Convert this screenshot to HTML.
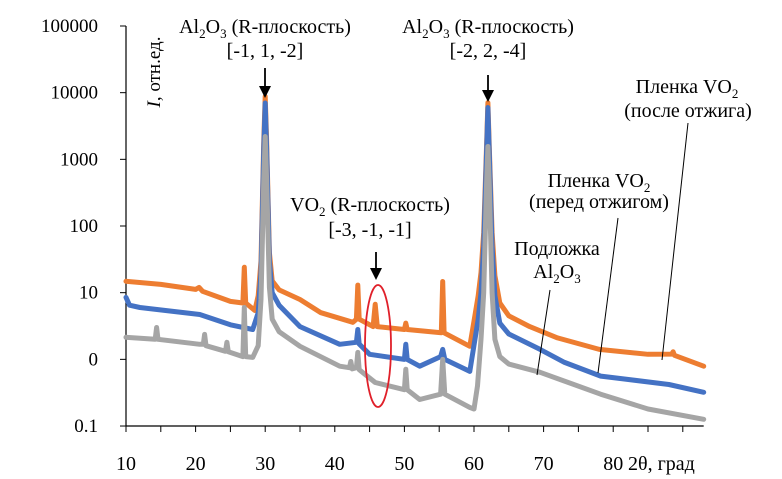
<!DOCTYPE html>
<html><head><meta charset="utf-8"><style>
body{margin:0;background:#fff}
svg{display:block}
svg text{font-family:"Liberation Serif","Times New Roman",serif;fill:#000}
</style></head><body>
<svg id="chart" width="782" height="479" viewBox="0 0 782 479" xmlns="http://www.w3.org/2000/svg" font-family="Liberation Serif, serif">
<g id="axes" font-family="Liberation Serif, serif"></g>
<g id="series"></g>
<g id="annot" font-family="Liberation Serif, serif">
  <text x="265" y="33" font-size="20" text-anchor="middle">Al<tspan font-size="13" dy="5">2</tspan><tspan dy="-5">O</tspan><tspan font-size="13" dy="5">3</tspan><tspan dy="-5"> (R-плоскость)</tspan></text>
  <text x="265" y="57" font-size="20" text-anchor="middle">[-1, 1, -2]</text>
  <text x="488" y="33" font-size="20" text-anchor="middle">Al<tspan font-size="13" dy="5">2</tspan><tspan dy="-5">O</tspan><tspan font-size="13" dy="5">3</tspan><tspan dy="-5"> (R-плоскость)</tspan></text>
  <text x="488" y="57" font-size="20" text-anchor="middle">[-2, 2, -4]</text>
  <text x="370" y="211" font-size="20" text-anchor="middle">VO<tspan font-size="13" dy="5">2</tspan><tspan dy="-5"> (R-плоскость)</tspan></text>
  <text x="370" y="236" font-size="20" text-anchor="middle">[-3, -1, -1]</text>
  <g stroke="#000" stroke-width="1.8">
    <line x1="265" y1="68" x2="265" y2="88"/><line x1="488" y1="75" x2="488" y2="92"/><line x1="376" y1="252" x2="376" y2="270"/>
  </g>
  <g fill="#000">
    <polygon points="259,86 271,86 265,98"/>
    <polygon points="482,90 494,90 488,102"/>
    <polygon points="370,268 382,268 376,280"/>
  </g>
  <ellipse cx="378" cy="346" rx="13" ry="61" fill="none" stroke="#e0202a" stroke-width="1.8"/>
  <text transform="translate(160,72) rotate(-90)" font-size="19" text-anchor="middle"><tspan font-style="italic">I</tspan>, отн.ед.</text>
  <text x="628" y="470" font-size="20">2θ, град</text>
  <text x="687" y="93" font-size="20" text-anchor="middle">Пленка VO<tspan font-size="13" dy="5">2</tspan></text>
  <text x="688" y="117" font-size="20" text-anchor="middle">(после отжига)</text>
  <text x="599" y="187" font-size="20" text-anchor="middle">Пленка VO<tspan font-size="13" dy="5">2</tspan></text>
  <text x="599" y="208" font-size="20" text-anchor="middle">(перед отжигом)</text>
  <text x="557" y="255" font-size="20" text-anchor="middle">Подложка</text>
  <text x="557" y="278" font-size="20" text-anchor="middle">Al<tspan font-size="13" dy="5">2</tspan><tspan dy="-5">O</tspan><tspan font-size="13" dy="5">3</tspan></text>
  <g stroke="#000" stroke-width="1">
    <line x1="688" y1="123" x2="662" y2="360"/>
    <line x1="618" y1="218" x2="598" y2="373"/>
    <line x1="550" y1="290" x2="537" y2="375"/>
  </g>
</g>
</svg>
<script>
const xTicks = [10,20,30,40,50,60,70,80];
const yTicks = [100000,10000,1000,100,10,1,0.1];
const yTickLabels = ["100000","10000","1000","100","10","0","0.1"];
const orangeX = [10,15,20,20.5,21,25,26.8,27,27.2,28.5,29.0,29.4,29.8,30,30.2,30.6,31,32,35,38,42.6,43.1,43.3,43.5,45.5,45.8,46.1,50,50.2,50.4,55.3,55.5,55.7,59.4,60.2,60.6,61,61.4,61.8,62,62.2,62.6,63,63.7,65,68,72,78,85,88.4,88.6,88.8,93];
const orangeY = [14.8,13.3,11.2,12,10.5,7.4,7,24,7,5.4,9,30,2000,8800,2000,40,15,11,7.9,5,3.6,4,13,4,3.1,6.7,3.1,2.8,3.5,2.8,2.5,14.7,2.5,1.57,5,9,20,80,1500,7100,1500,80,18,7,4.5,3.1,2.1,1.41,1.19,1.2,1.3,1.15,0.79];
const blueX = [10,10.5,12,20.6,25,28.2,29.0,29.4,29.8,30,30.2,30.6,31,32,35,40.7,43.1,43.3,43.5,45,50,50.2,50.4,52.2,55.2,55.5,55.8,59.4,60.2,60.6,61,61.4,61.8,62,62.2,62.6,63,63.7,65,69.5,73,78.2,88,93];
const blueY = [8.5,6.5,6,4.7,3.3,2.8,5,20,1500,7000,1500,30,10,6.5,3.1,1.68,1.8,2.8,1.7,1.19,1.0,1.68,1.0,0.79,1.1,1.41,1.0,0.66,2.2,4,10,50,1200,6000,1200,50,9,3.5,2.4,1.41,0.9,0.56,0.42,0.32];
const grayX = [10,14.2,14.4,14.6,20.6,21.1,21.3,21.5,24.3,24.5,24.7,26.8,27,27.2,28.2,29.0,29.4,29.8,30,30.2,30.6,31,32,35,40.7,42.1,42.3,42.5,43.1,43.3,43.5,45.8,50,50.2,50.4,52.2,55.2,55.5,55.8,59.4,60,60.5,61,61.4,61.8,62,62.2,62.6,63,63.7,65,69.5,78.2,85,93];
const grayY = [2.14,2.0,3.0,2.0,1.68,1.68,2.37,1.6,1.32,1.8,1.3,1.1,6,1.1,1.07,1.6,8,500,2200,500,12,4,2.6,1.57,0.79,0.75,0.93,0.72,0.75,1.27,0.7,0.45,0.35,0.71,0.35,0.25,0.3,1.0,0.3,0.19,0.18,0.4,2,10,400,1560,400,10,2,1.1,0.85,0.64,0.3,0.18,0.126];

const NS = "http://www.w3.org/2000/svg";
const X0 = 126, XPX = 6.96, YTOP = 26, DEC = 66.67;
function xs(v){ return X0 + (v - 10) * XPX; }
function ys(v){ return YTOP + (5 - Math.log10(v)) * DEC; }
function mk(tag, attrs, parent){ const e = document.createElementNS(NS, tag); for (const k in attrs) e.setAttribute(k, attrs[k]); parent.appendChild(e); return e; }

const axes = document.getElementById('axes');
const yAxis = mk('line', {x1:xs(10), y1:ys(100000), x2:xs(10), y2:ys(0.1), stroke:'#000', 'stroke-width':1.2}, axes);


const xAxis = mk('line', {x1:xs(10), y1:ys(0.1), x2:xs(93), y2:ys(0.1), stroke:'#000', 'stroke-width':1.2}, axes);


yTicks.forEach((t, i) => {
  const tk = mk('line', {x1:xs(10)-6, y1:ys(t), x2:xs(10), y2:ys(t), stroke:'#000', 'stroke-width':1}, axes);
  
  
  const lb = mk('text', {x:98, y:ys(t)+6, 'font-size':19, 'text-anchor':'end', 'font-family':'Liberation Serif, serif'}, axes);
  
  
  lb.textContent = yTickLabels[i];
});
for (let v = 10; v <= 90; v += 5) {
  const tk = mk('line', {x1:xs(v), y1:ys(0.1), x2:xs(v), y2:ys(0.1)+6, stroke:'#000', 'stroke-width':1}, axes);
  
  
}
xTicks.forEach(t => {
  const lb = mk('text', {x:xs(t), y:470, 'font-size':20, 'text-anchor':'middle', 'font-family':'Liberation Serif, serif'}, axes);
  
  
  lb.textContent = t;
});

const series = document.getElementById('series');
function draw(X, Y, color, name){
  const pts = X.map((x, i) => xs(x).toFixed(1) + ',' + ys(Y[i]).toFixed(1)).join(' ');
  const pl = mk('polyline', {points:pts, fill:'none', stroke:color, 'stroke-width':5, 'stroke-linejoin':'round', 'stroke-linecap':'round'}, series);
  
  
}
draw(orangeX, orangeY, '#ED7D31', 'series-after-anneal');
draw(blueX, blueY, '#4472C4', 'series-before-anneal');
draw(grayX, grayY, '#A5A5A5', 'series-substrate');
</script>
</body></html>
